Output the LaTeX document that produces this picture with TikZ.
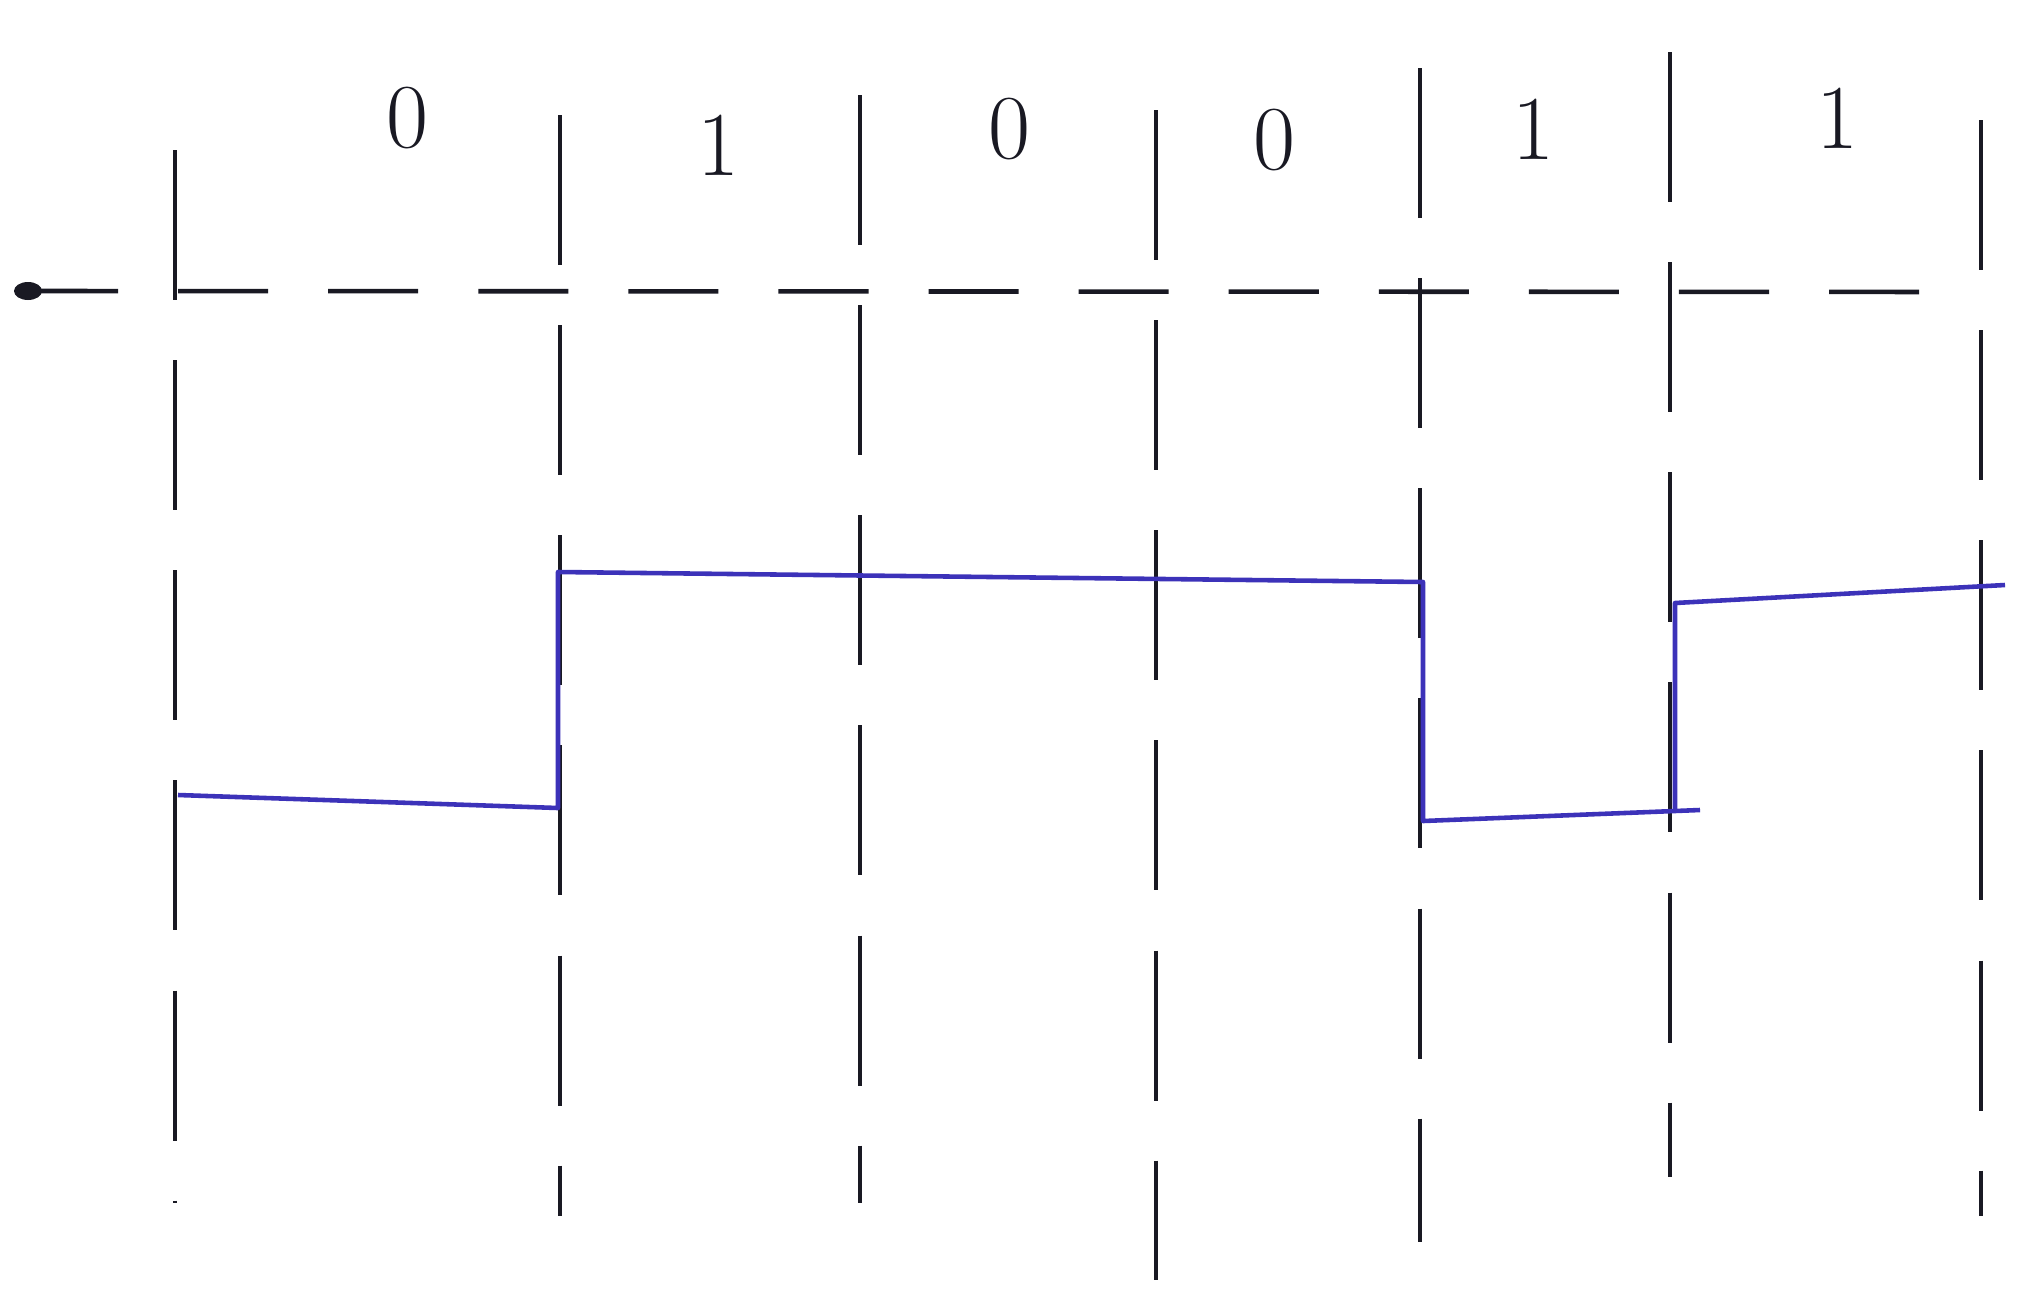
\documentclass[tikz,border=0pt]{standalone}
\usetikzlibrary{calc}
\definecolor{pen}{RGB}{25,25,35}
\definecolor{bluepen}{RGB}{60,50,185}
\tikzset{
  x=0.01cm, y=-0.01cm,
  grid/.style={draw=pen, line width=1.1pt, dash pattern=on 1.5cm off 0.6cm},
  axis/.style={draw=pen, line width=1.3pt, dash pattern=on 0.9cm off 0.6cm},
  signal/.style={draw=bluepen, line width=1.3pt, line join=round},
  bit/.style={font=\fontsize{26}{30}\selectfont, text=pen, inner sep=0pt}
}
\begin{document}
\begin{tikzpicture}
\useasboundingbox[fill=white] (0,0) rectangle (2028,1309);
% vertical bit boundaries
\foreach \n/\x/\t/\b in {v1/175/150/1203, v2/560/115/1216, v3/860/95/1203, v4/1156/110/1280, v5/1420/68/1242, v6/1670/52/1177, v7/1981/120/1216}{
  \coordinate (\n t) at (\x,\t);
  \coordinate (\n b) at (\x,\b);
  \draw[grid] (\n t) -- (\n b);
}
% time axis
\coordinate (start) at (28,291);
\coordinate (axend) at (1975,292);
\fill[pen] (start) ellipse (14 and 9);
\draw[axis] (start) -- (axend);
% bit labels
\node[bit] (b1) at (407,118) {0};
\node[bit] (b2) at (718,145) {1};
\node[bit] (b3) at (1009,129) {0};
\node[bit] (b4) at (1274,140) {0};
\node[bit] (b5) at (1533,129) {1};
\node[bit] (b6) at (1837,118) {1};
% encoded signal
\coordinate (s0) at (178,795);
\coordinate (s1) at (558,808);
\coordinate (s2) at (558,572);
\coordinate (s3) at (1423,582);
\coordinate (s4) at (1423,821);
\coordinate (s5) at (1700,810);
\coordinate (s6) at (1675,810);
\coordinate (s7) at (1675,603);
\coordinate (s8) at (2005,585);
\draw[signal] (s0) -- (s1) -- (s2) -- (s3) -- (s4) -- (s5);
\draw[signal] (s6) -- (s7) -- (s8);
\end{tikzpicture}
\end{document}
